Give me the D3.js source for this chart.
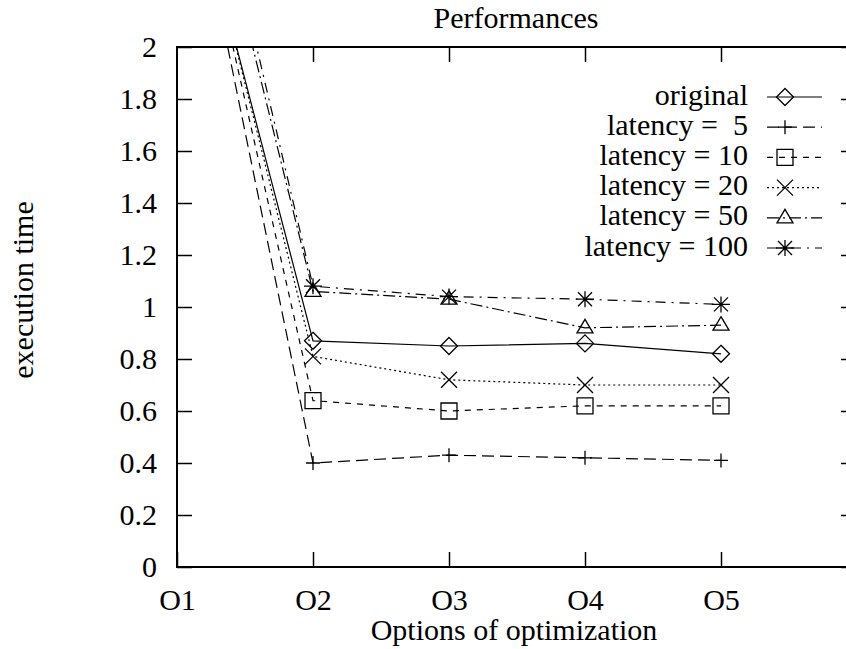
<!DOCTYPE html>
<html>
<head>
<meta charset="utf-8">
<script src="https://cdn.jsdelivr.net/npm/d3@7"></script>
<style>
  body { margin: 0; background: #fff; }
  svg text { font-family: "Liberation Serif", "Times New Roman", serif; fill: #000; }
</style>
</head>
<body>
<div id="chart"></div>
<script>
// categories on the x axis (O1..O5 at positions 1..5)
const options = ["O1", "O2", "O3", "O4", "O5"];
const yTicks = [0, 0.2, 0.4, 0.6, 0.8, 1, 1.2, 1.4, 1.6, 1.8, 2];

// series values
const original   = [2.88, 0.87, 0.85, 0.86, 0.82];
const latency5   = [2.95, 0.40, 0.43, 0.42, 0.41];
const latency10  = [2.95, 0.64, 0.60, 0.62, 0.62];
const latency20  = [2.91, 0.81, 0.72, 0.70, 0.70];
const latency50  = [3.18, 1.06, 1.03, 0.92, 0.93];
const latency100 = [3.30, 1.08, 1.04, 1.03, 1.01];

const seriesNames = ["original", "latency =  5", "latency = 10", "latency = 20", "latency = 50", "latency = 100"];
const seriesValues = [original, latency5, latency10, latency20, latency50, latency100];
const seriesDash = ["none", "12,6", "6,6", "2,3", "12,4,2,4", "10,6,2,6"];
const seriesMarker = ["diamond", "plus", "square", "cross", "triangle", "star"];

const width = 846, height = 649;
const mLeft = 177, mRight = 857, mTop = 47, mBottom = 567;
const fs = 30; // font size

const svg = d3.select("#chart").append("svg")
    .attr("width", width)
    .attr("height", height);

const x = d3.scaleLinear().domain([1, 6]).range([mLeft, mRight]);
const y = d3.scaleLinear().domain([0, 2]).range([mBottom, mTop]);

svg.append("clipPath").attr("id", "plot")
    .append("rect").attr("x", mLeft).attr("y", mTop)
    .attr("width", mRight - mLeft).attr("height", mBottom - mTop);

// axes, ticks pointing inward (mirrored on every side)
const fmtY = d => d === 0 || d === 1 || d === 2 ? String(d) : d.toFixed(1);
const xBottom = svg.append("g").attr("transform", `translate(0,${mBottom})`)
    .call(d3.axisBottom(x).tickValues([1, 2, 3, 4, 5]).tickSizeInner(-15).tickSizeOuter(0).tickPadding(22)
        .tickFormat((d, i) => options[i]));
svg.append("g").attr("transform", `translate(0,${mTop})`)
    .call(d3.axisTop(x).tickValues([2, 3, 4, 5]).tickSizeInner(-15).tickSizeOuter(0).tickFormat(""));
const yLeft = svg.append("g").attr("transform", `translate(${mLeft},0)`)
    .call(d3.axisLeft(y).tickValues(yTicks).tickSizeInner(-15).tickSizeOuter(0).tickPadding(20).tickFormat(fmtY));
svg.append("g").attr("transform", `translate(${mRight},0)`)
    .call(d3.axisRight(y).tickValues(yTicks).tickSizeInner(-16).tickSizeOuter(0).tickFormat(""));

svg.selectAll(".domain").remove();
svg.selectAll(".tick line").attr("stroke", "#000").attr("stroke-width", 1.5);
xBottom.selectAll("text").attr("font-size", fs).attr("dy", "0.71em");
yLeft.selectAll("text").attr("font-size", fs).attr("dy", "0.3em");

svg.append("rect")
    .attr("x", mLeft).attr("y", mTop)
    .attr("width", mRight - mLeft).attr("height", mBottom - mTop)
    .attr("fill", "none").attr("stroke", "#000").attr("stroke-width", 2);

// titles
svg.append("text").attr("x", 516).attr("y", 28).attr("text-anchor", "middle")
    .attr("font-size", fs).text("Performances");
svg.append("text").attr("x", 514).attr("y", 640).attr("text-anchor", "middle")
    .attr("font-size", fs).text("Options of optimization");
svg.append("text").attr("transform", "translate(33,290) rotate(-90)").attr("text-anchor", "middle")
    .attr("font-size", fs).text("execution time");

function drawMarker(g, type, cx, cy) {
    const p = g.append("path").attr("fill", "none").attr("stroke", "#000").attr("stroke-width", 1.3);
    let d = "";
    if (type === "diamond") d = `M${cx},${cy - 8.5}L${cx + 8.5},${cy}L${cx},${cy + 8.5}L${cx - 8.5},${cy}Z`;
    if (type === "plus") d = `M${cx - 7},${cy}H${cx + 7}M${cx},${cy - 7}V${cy + 7}`;
    if (type === "square") d = `M${cx - 8},${cy - 8}h16v16h-16Z`;
    if (type === "cross") d = `M${cx - 8},${cy - 8}L${cx + 8},${cy + 8}M${cx - 8},${cy + 8}L${cx + 8},${cy - 8}`;
    if (type === "triangle") d = `M${cx},${cy - 8.5}L${cx + 8},${cy + 5}L${cx - 8},${cy + 5}Z`;
    if (type === "star") d = `M${cx - 9},${cy}H${cx + 9}M${cx},${cy - 8}V${cy + 8}` +
        `M${cx - 7},${cy - 7}L${cx + 7},${cy + 7}M${cx - 7},${cy + 7}L${cx + 7},${cy - 7}`;
    p.attr("d", d);
}

const line = d3.line().x((d, i) => x(i + 1)).y(d => y(d));
const plot = svg.append("g").attr("clip-path", "url(#plot)");

seriesValues.forEach((vals, k) => {
    plot.append("path")
        .attr("d", line(vals))
        .attr("fill", "none")
        .attr("stroke", "#000")
        .attr("stroke-width", 1.2)
        .attr("stroke-dasharray", seriesDash[k]);
    vals.forEach((v, i) => {
        if (v <= 2) drawMarker(plot, seriesMarker[k], x(i + 1), y(v));
    });
});

// legend
const legend = svg.append("g");
seriesNames.forEach((name, k) => {
    const ly = 97 + k * 30.2;
    legend.append("text").attr("x", 748).attr("y", ly).attr("dy", "0.25em")
        .attr("text-anchor", "end").attr("font-size", fs)
        .attr("xml:space", "preserve").style("white-space", "pre").text(name);
    legend.append("line").attr("x1", 767).attr("x2", 822).attr("y1", ly).attr("y2", ly)
        .attr("stroke", "#000").attr("stroke-width", 1.2).attr("stroke-dasharray", seriesDash[k]);
    drawMarker(legend, seriesMarker[k], 785, ly);
});
</script>
</body>
</html>
